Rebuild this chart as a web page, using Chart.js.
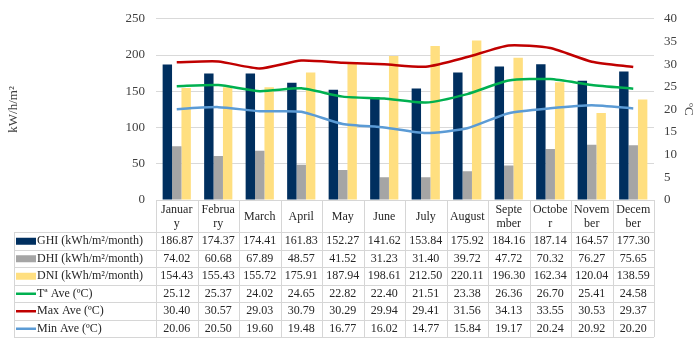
<!DOCTYPE html>
<html>
<head>
<meta charset="utf-8">
<script src="https://cdn.jsdelivr.net/npm/chart.js@4/dist/chart.umd.min.js"></script>
<style>
html,body{margin:0;padding:0;background:#fff;}
#wrap{width:700px;height:343px;position:relative;}
</style>
</head>
<body>
<div id="wrap"><canvas id="c" width="700" height="343"></canvas></div>
<script>
const months = ['January','February','March','April','May','June','July','August','September','October','November','December'];
const monthLines = [['Januar','y'],['Februa','ry'],['March'],['April'],['May'],['June'],['July'],['August'],['Septe','mber'],['Octobe','r'],['Novem','ber'],['Decem','ber']];
const ghi = [186.87,174.37,174.41,161.83,152.27,141.62,153.84,175.92,184.16,187.14,164.57,177.30];
const dhi = [74.02,60.68,67.89,48.57,41.52,31.23,31.40,39.72,47.72,70.32,76.27,75.65];
const dni = [154.43,155.43,155.72,175.91,187.94,198.61,212.50,220.11,196.30,162.34,120.04,138.59];
const tAve = [25.12,25.37,24.02,24.65,22.82,22.40,21.51,23.38,26.36,26.70,25.41,24.58];
const maxAve = [30.40,30.57,29.03,30.79,30.29,29.94,29.41,31.56,34.13,33.55,30.53,29.37];
const minAve = [20.06,20.50,19.60,19.48,16.77,16.02,14.77,15.84,19.17,20.24,20.92,20.20];
const seriesNames = ['GHI (kWh/m²/month)','DHI (kWh/m²/month)','DNI (kWh/m²/month)','Tª Ave (ºC)','Max Ave (ºC)','Min Ave (ºC)'];
const leftTitle = 'kW/h/m²';
const rightTitle = 'ºC';

const colors = ['#002f5f','#a5a5a5','#ffdf80','#00b050','#c00000','#5b9bd5'];
const FONT = '"Liberation Serif", "DejaVu Serif", serif';

const tablePlugin = {
  id: 'dataTable',
  afterDraw(chart) {
    const ctx = chart.ctx;
    const xs = chart.scales.x;
    const area = chart.chartArea;
    const n = months.length;
    const colW = (area.right - area.left) / n;
    const headTop = area.bottom;
    const headBot = headTop + 32;
    const rowH = 17.5;
    const legLeft = 14;
    const rows = [ghi, dhi, dni, tAve, maxAve, minAve];
    const tableBot = headBot + rowH * rows.length;
    ctx.save();
    ctx.strokeStyle = '#d6d6d6';
    ctx.lineWidth = 1;
    ctx.beginPath();
    ctx.moveTo(area.left, headTop + 0.5); ctx.lineTo(area.right, headTop + 0.5);
    for (let i = 0; i <= n; i++) {
      const x = Math.round(area.left + i * colW) + 0.5;
      ctx.moveTo(x, headTop); ctx.lineTo(x, tableBot);
    }
    for (let r = 0; r <= rows.length; r++) {
      const y = Math.round(headBot + r * rowH) + 0.5;
      ctx.moveTo(legLeft, y); ctx.lineTo(area.right, y);
    }
    ctx.moveTo(legLeft + 0.5, headBot); ctx.lineTo(legLeft + 0.5, tableBot);
    ctx.stroke();

    ctx.fillStyle = '#262626';
    ctx.font = '12px ' + FONT;
    ctx.textAlign = 'center';
    ctx.textBaseline = 'middle';
    for (let i = 0; i < n; i++) {
      const cx = xs.getPixelForValue(i);
      const lines = monthLines[i];
      const mid = (headTop + headBot) / 2 + 0.5;
      if (lines.length === 1) {
        ctx.fillText(lines[0], cx, mid);
      } else {
        ctx.fillText(lines[0], cx, mid - 7);
        ctx.fillText(lines[1], cx, mid + 7);
      }
    }
    for (let r = 0; r < rows.length; r++) {
      const cy = headBot + r * rowH + rowH / 2 + 0.5;
      for (let i = 0; i < n; i++) {
        ctx.fillStyle = '#262626';
        ctx.fillText(rows[r][i].toFixed(2), xs.getPixelForValue(i), cy);
      }
      if (r < 3) {
        ctx.fillStyle = colors[r];
        ctx.fillRect(legLeft + 2, cy - 3.5, 20, 7);
      } else {
        ctx.strokeStyle = colors[r];
        ctx.lineWidth = 2.5;
        ctx.beginPath();
        ctx.moveTo(legLeft + 2, cy); ctx.lineTo(legLeft + 22, cy);
        ctx.stroke();
      }
      ctx.fillStyle = '#262626';
      ctx.textAlign = 'left';
      ctx.fillText(seriesNames[r], legLeft + 23, cy);
      ctx.textAlign = 'center';
    }
    ctx.restore();
  }
};

const barDs = (label, data, color) => ({
  type: 'bar', label, data, backgroundColor: color, yAxisID: 'y', order: 2,
  barPercentage: 1, categoryPercentage: 0.68
});
const lineDs = (label, data, color) => ({
  type: 'line', label, data, borderColor: color, backgroundColor: color, yAxisID: 'y1', order: 1,
  borderWidth: 2.5, pointRadius: 0, tension: 0.2, fill: false
});

new Chart(document.getElementById('c'), {
  data: {
    labels: months,
    datasets: [
      barDs(seriesNames[0], ghi, colors[0]),
      barDs(seriesNames[1], dhi, colors[1]),
      barDs(seriesNames[2], dni, colors[2]),
      lineDs(seriesNames[3], tAve, colors[3]),
      lineDs(seriesNames[4], maxAve, colors[4]),
      lineDs(seriesNames[5], minAve, colors[5])
    ]
  },
  options: {
    responsive: false,
    animation: false,
    layout: { autoPadding: false, padding: { top: 15, bottom: 143, left: 0, right: 0 } },
    plugins: { legend: { display: false }, tooltip: { enabled: false } },
    scales: {
      x: {
        ticks: { display: false },
        grid: { display: false },
        border: { display: false },
        afterFit(s) { s.height = 0; }
      },
      y: {
        position: 'left', min: 0, max: 250,
        ticks: { stepSize: 50, color: '#404040', font: { family: FONT, size: 13 }, padding: 11 },
        grid: { color: '#d9d9d9', drawTicks: false },
        border: { display: false },
        title: { display: true, text: leftTitle, color: '#404040', font: { family: FONT, size: 13 }, padding: { top: 6, bottom: 0 } },
        afterFit(s) { s.width = 156; }
      },
      y1: {
        position: 'right', min: 0, max: 40,
        ticks: { stepSize: 5, color: '#404040', font: { family: FONT, size: 13 }, padding: 10 },
        grid: { display: false, drawTicks: false },
        border: { display: false },
        title: { display: true, text: rightTitle, color: '#404040', font: { family: FONT, size: 13 }, padding: { top: 4, bottom: 0 } },
        afterFit(s) { s.width = 46; }
      }
    }
  },
  plugins: [tablePlugin]
});
</script>
</body>
</html>
